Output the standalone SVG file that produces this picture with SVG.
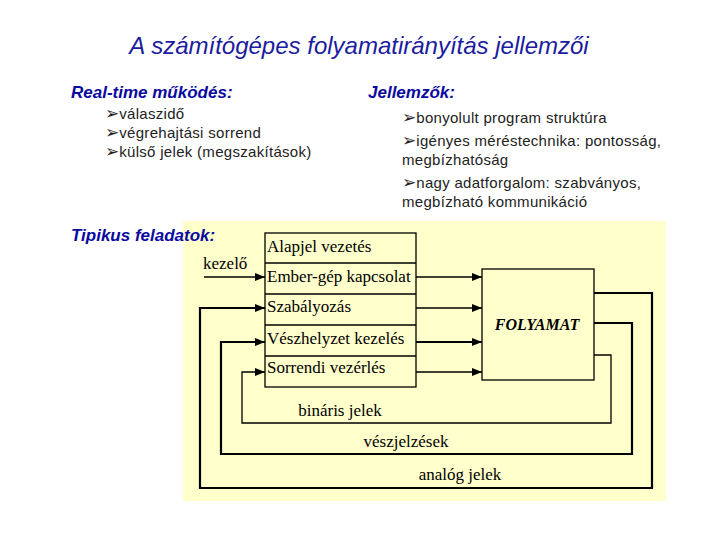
<svg xmlns="http://www.w3.org/2000/svg" width="720" height="540" viewBox="0 0 720 540">
<defs>
<marker id="ah" viewBox="0 0 10 8" refX="10" refY="4" markerWidth="10" markerHeight="8" markerUnits="userSpaceOnUse" orient="auto">
<path d="M0,0 L10,4 L0,8 Z" fill="#000"/>
</marker>
</defs>
<style>
.title{font-family:"Liberation Sans",Arial,sans-serif;font-style:italic;font-size:24px;fill:#1c1ca0}
.head{font-family:"Liberation Sans",Arial,sans-serif;font-style:italic;font-weight:bold;font-size:17px;fill:#0a0aa0}
.item{font-family:"Liberation Sans",Arial,sans-serif;font-size:15px;fill:#222;letter-spacing:0.3px}
.bul{font-family:"DejaVu Sans",sans-serif;font-size:17px;letter-spacing:0}
.dt{font-family:"Liberation Serif","Times New Roman",serif;font-size:17px;fill:#000}
.fo{font-family:"Liberation Serif","Times New Roman",serif;font-size:16px;font-weight:bold;font-style:italic;fill:#000}
.box{fill:#ffffcc;stroke:#000;stroke-width:1.3}
.ln{fill:none;stroke:#000;stroke-width:1.3}
.thk{fill:none;stroke:#000;stroke-width:2.2}
</style>
<rect x="0" y="0" width="720" height="540" fill="#fff"/>
<rect id="panel" x="183" y="221" width="483" height="280" fill="#ffffcc"/>

<text class="title" x="359" y="54" text-anchor="middle">A számítógépes folyamatirányítás jellemzői</text>

<g id="realtime">
<text class="head" x="71" y="98">Real-time működés:</text>
<text class="item" x="105" y="119"><tspan class="bul">➢</tspan>válaszidő</text>
<text class="item" x="105" y="138"><tspan class="bul">➢</tspan>végrehajtási sorrend</text>
<text class="item" x="105" y="157"><tspan class="bul">➢</tspan>külső jelek (megszakítások)</text>
</g>

<g id="jellemzok">
<text class="head" x="368" y="98">Jellemzők:</text>
<text class="item" x="402" y="123"><tspan class="bul">➢</tspan>bonyolult program struktúra</text>
<text class="item" x="402" y="146"><tspan class="bul">➢</tspan>igényes méréstechnika: pontosság,</text>
<text class="item" x="402" y="165">megbízhatóság</text>
<text class="item" x="402" y="188"><tspan class="bul">➢</tspan>nagy adatforgalom: szabványos,</text>
<text class="item" x="402" y="207">megbízható kommunikáció</text>
</g>

<text class="head" x="71" y="241">Tipikus feladatok:</text>

<g id="connectors">
<path class="ln" d="M204,277 H265" marker-end="url(#ah)"/>
<path class="ln" d="M416,277 H482" marker-end="url(#ah)"/>
<path class="ln" d="M416,308 H482" marker-end="url(#ah)"/>
<path class="thk" d="M416,342 H482" marker-end="url(#ah)"/>
<path class="ln" d="M416,372 H482" marker-end="url(#ah)"/>
<path class="thk" d="M594,293 H652 V488 H200 V308 H265" marker-end="url(#ah)"/>
<path class="thk" d="M594,323 H632 V454 H221 V342 H265" marker-end="url(#ah)"/>
<path class="ln" d="M594,355 H611 V423 H242 V372 H265" marker-end="url(#ah)"/>
</g>

<g id="feladatok">
<rect class="box" x="265" y="233" width="151" height="154"/>
<line class="ln" x1="265" y1="263" x2="416" y2="263"/>
<line class="ln" x1="265" y1="294" x2="416" y2="294"/>
<line class="ln" x1="265" y1="325" x2="416" y2="325"/>
<line class="ln" x1="265" y1="356" x2="416" y2="356"/>
<text class="dt" x="267" y="252">Alapjel vezetés</text>
<text class="dt" x="267" y="282">Ember-gép kapcsolat</text>
<text class="dt" x="267" y="312">Szabályozás</text>
<text class="dt" x="267" y="344">Vészhelyzet kezelés</text>
<text class="dt" x="267" y="373">Sorrendi vezérlés</text>
</g>

<g id="folyamat">
<rect class="box" x="482" y="269" width="112" height="111"/>
<text class="fo" x="537" y="330" text-anchor="middle">FOLYAMAT</text>
</g>

<g id="labels">
<text class="dt" x="203" y="269">kezelő</text>
<text class="dt" x="340" y="416" text-anchor="middle">bináris jelek</text>
<text class="dt" x="406" y="447" text-anchor="middle">vészjelzések</text>
<text class="dt" x="460" y="480" text-anchor="middle">analóg jelek</text>
</g>
</svg>
